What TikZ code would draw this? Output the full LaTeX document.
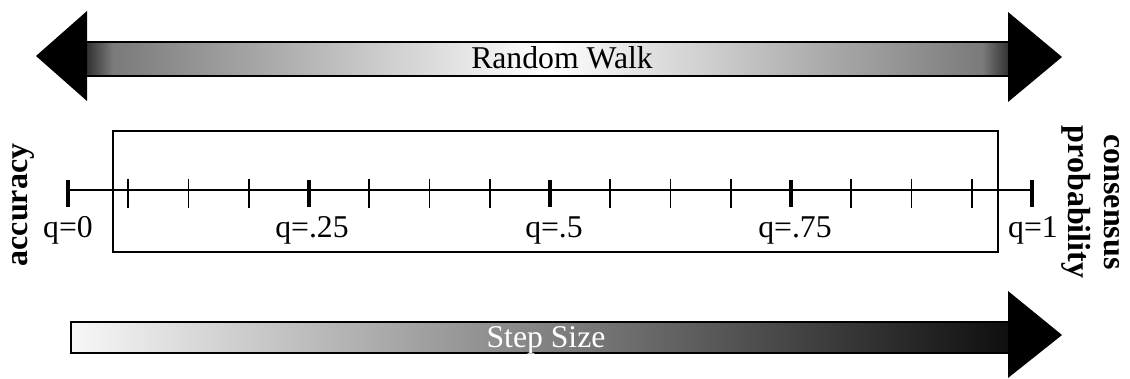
\documentclass[tikz,border=0pt]{standalone}
\usepackage{fontspec}
\setmainfont{Liberation Serif}
\definecolor{shadeend}{gray}{0.2}
\definecolor{shademid}{gray}{0.48}
% dark at both ends, white in the middle (the path fills 25bp..75bp)
\pgfdeclarehorizontalshading{walkshade}{100bp}{color(0bp)=(shadeend); color(25bp)=(shadeend); color(26.4bp)=(shademid); color(50bp)=(white); color(73.6bp)=(shademid); color(75bp)=(shadeend); color(100bp)=(shadeend)}
\begin{document}
\begin{tikzpicture}[x=1pt,y=-1pt,
  txt/.style={font=\fontsize{31.7}{33}\selectfont, inner sep=0pt},
  boldtxt/.style={font=\fontsize{32}{36}\selectfont\bfseries, inner sep=0pt, align=center},
  shaftline/.style={line width=1.6pt},
  majortick/.style={line width=4.8pt},
  minortick/.style={line width=1.8pt}]
\useasboundingbox (0,0) rectangle (1130,379);

% double-headed "Random Walk" arrow
\shade[shading=walkshade] (87,42) rectangle (1008,76);
\draw[shaftline] (87,42) -- (1008,42) (87,76) -- (1008,76);
\fill (87,11) -- (36,56) -- (87,101) -- cycle;
\fill (1008,12) -- (1062,57) -- (1008,102) -- cycle;
\node[txt, anchor=base] (walk) at (562,69) {Random Walk};

% frame around the inner part of the scale
\draw[line width=1.5pt] (113,131) rectangle (998,252);

% scale with ticks
\coordinate (qa) at (68,190);
\coordinate (qb) at (1032,190);
\draw[line width=1.6pt] (qa) -- (qb);
\foreach \i in {0,...,16}{
  \pgfmathsetmacro{\tx}{68+\i*60.25}
  \pgfmathtruncatemacro{\m}{mod(\i,4)}
  \ifnum\m=0
    \draw[majortick] (\tx,180) -- (\tx,207);
  \else
    \draw[minortick] (\tx,179) -- (\tx,208);
  \fi
}
\node[txt, anchor=base] (q0) at (68,238) {q=0};
\node[txt, anchor=base] (q1) at (312,238) {q=.25};
\node[txt, anchor=base] (q2) at (554,238) {q=.5};
\node[txt, anchor=base] (q3) at (795,238) {q=.75};
\node[txt, anchor=base] (q4) at (1033,238) {q=1};

% side labels
\node[boldtxt, rotate=90] (acc) at (23,205) {accuracy};
\node[boldtxt, rotate=-90] (cons) at (1091,202) {consensus\\probability};

% "Step Size" arrow
\shade[left color=black!3, right color=black!94] (71,322) rectangle (1008,353);
\draw[shaftline] (1008,322) -- (71,322) -- (71,353) -- (1008,353);
\fill (1008,291) -- (1062,335) -- (1008,378) -- cycle;
\node[txt, text=white, anchor=base] (step) at (546,348) {Step Size};
\end{tikzpicture}
\end{document}
